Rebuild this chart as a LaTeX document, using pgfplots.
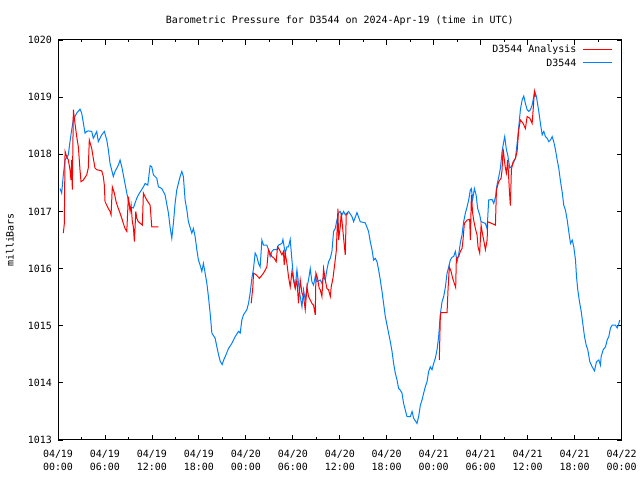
\documentclass[border=0pt]{standalone}
\usepackage{pgfplots}
\pgfplotsset{compat=1.18}
\usepackage{fontspec}
\setmainfont{DejaVu Sans Mono}
\definecolor{gpred}{RGB}{255,0,0}
\definecolor{gpblue}{RGB}{0,128,255}

\begin{document}
\begin{tikzpicture}[x=1bp,y=1bp]
\path[use as bounding box] (0,0) rectangle (640,480);
\begin{axis}[
  at={(58bp,40bp)}, anchor=south west,
  scale only axis, width=563.5bp, height=400bp,
  xmin=0, xmax=72, ymin=1013, ymax=1020,
  xtick={0,6,...,72},
  xticklabels={{04/19\\00:00},{04/19\\06:00},{04/19\\12:00},{04/19\\18:00},{04/20\\00:00},{04/20\\06:00},{04/20\\12:00},{04/20\\18:00},{04/21\\00:00},{04/21\\06:00},{04/21\\12:00},{04/21\\18:00},{04/22\\00:00}},
  minor x tick num=1,
  ytick={1013,1014,1015,1016,1017,1018,1019,1020},
  yticklabels={1013,1014,1015,1016,1017,1018,1019,1020},
  tick align=inside,
  major tick length=5bp, minor tick length=2.5bp,
  tick style={black, line width=0.8bp},
  axis line style={black, line width=1bp},
  xticklabel style={align=center, font=\fontsize{10}{13.5}\selectfont, yshift=-6.5bp},
  yticklabel style={font=\fontsize{10}{12}\selectfont, xshift=-2.5bp},
  title={Barometric Pressure for D3544 on 2024-Apr-19 (time in UTC)},
  title style={at={(axis description cs:0.5,1.0525)}, anchor=center, yshift=-8bp, font=\fontsize{10}{12}\selectfont},
  ylabel={milliBars},
  ylabel style={at={(axis description cs:-0.0852,0.5)}, anchor=center, font=\fontsize{10}{12}\selectfont},
  unbounded coords=jump,
  legend plot pos=right,
  legend cell align=right,
  legend style={at={(axis description cs:1,1)}, anchor=north east, xshift=-6bp, yshift=-1bp, fill=none, draw=none, font=\fontsize{10}{12}\selectfont, row sep=0.5bp, column sep=5bp},
]
\addplot[gpblue, line width=1bp, sharp plot, forget plot] coordinates {
(0.26,1017.40) (0.47,1017.32) (0.68,1017.64) (0.90,1017.90) (1.32,1017.99) (1.53,1018.22) (1.75,1018.43) (1.96,1018.60)
(2.39,1018.72) (2.81,1018.79) (3.03,1018.72) (3.24,1018.55) (3.45,1018.37) (3.67,1018.40) (3.87,1018.41) (4.31,1018.40)
(4.51,1018.28) (4.95,1018.40) (5.15,1018.22) (5.59,1018.34) (5.92,1018.40) (6.23,1018.25) (6.43,1018.08) (6.65,1017.84)
(7.07,1017.61) (7.29,1017.70) (7.71,1017.81) (7.93,1017.90) (8.15,1017.78) (8.35,1017.64) (8.79,1017.32) (9.21,1017.05)
(9.43,1017.07) (9.63,1017.06) (10.06,1017.23) (10.27,1017.29) (10.91,1017.43) (11.13,1017.49) (11.47,1017.46) (11.77,1017.80)
(11.98,1017.78) (12.19,1017.64) (12.62,1017.58) (12.83,1017.43) (13.26,1017.40) (13.68,1017.29) (14.11,1016.97) (14.32,1016.73)
(14.54,1016.53) (14.75,1016.80) (14.96,1017.14) (15.18,1017.38) (15.60,1017.61) (15.82,1017.70) (16.02,1017.61) (16.24,1017.20)
(16.46,1017.03) (16.66,1016.82) (17.10,1016.62) (17.30,1016.70) (17.52,1016.56) (17.74,1016.33) (17.94,1016.15) (18.16,1016.06)
(18.38,1015.95) (18.58,1016.09) (18.80,1015.92) (19.02,1015.74) (19.22,1015.51) (19.44,1015.22) (19.66,1014.87) (20.08,1014.78)
(20.30,1014.63) (20.50,1014.50) (20.72,1014.38) (20.97,1014.32) (21.23,1014.42) (21.49,1014.50) (21.78,1014.60) (22.21,1014.69)
(22.64,1014.81) (23.06,1014.90) (23.28,1014.87) (23.49,1015.10) (23.70,1015.19) (24.13,1015.28) (24.34,1015.39) (24.55,1015.57)
(24.77,1015.83) (24.98,1016.00) (25.19,1016.27) (25.41,1016.21) (25.62,1016.09) (25.83,1016.03) (26.05,1016.50) (26.26,1016.41)
(26.69,1016.41) (26.89,1016.33) (27.11,1016.21) (27.33,1016.30) (27.53,1016.33) (27.97,1016.33) (28.17,1016.41) (28.61,1016.44)
(28.74,1016.51) (29.03,1016.27) (29.25,1016.38) (29.45,1016.38) (29.67,1016.51) (29.89,1016.15) (30.09,1015.83) (30.31,1015.68)
(30.53,1015.98) (30.73,1015.74) (30.95,1015.51) (31.17,1015.33) (31.37,1015.63) (31.59,1015.45) (31.81,1015.68) (32.01,1015.80)
(32.23,1016.00) (32.44,1015.77) (32.65,1015.71) (32.87,1015.86) (33.08,1015.77) (33.51,1015.80) (33.72,1015.74) (33.93,1015.86)
(34.15,1015.80) (34.36,1015.98) (34.57,1016.12) (34.79,1016.18) (35.00,1016.30) (35.21,1016.65) (35.42,1016.70) (35.64,1016.85)
(35.85,1016.97) (36.06,1017.00) (36.28,1016.94) (36.49,1017.00) (36.70,1016.94) (37.13,1017.00) (37.56,1016.91) (37.77,1016.82)
(38.20,1016.98) (38.62,1016.82) (39.26,1016.80) (39.68,1016.65) (39.90,1016.47) (40.12,1016.33) (40.32,1016.15) (40.54,1016.18)
(40.76,1016.12) (40.96,1015.98) (41.18,1015.80) (41.40,1015.60) (41.60,1015.39) (41.82,1015.16) (42.04,1015.01) (42.24,1014.87)
(42.46,1014.72) (42.68,1014.55) (42.88,1014.34) (43.10,1014.17) (43.32,1014.05) (43.52,1013.90) (43.74,1013.87) (43.95,1013.82)
(44.16,1013.64) (44.38,1013.52) (44.59,1013.41) (45.02,1013.41) (45.24,1013.50) (45.44,1013.38) (45.87,1013.29) (46.08,1013.41)
(46.30,1013.61) (46.51,1013.70) (46.72,1013.82) (46.93,1013.93) (47.15,1014.02) (47.36,1014.20) (47.57,1014.28) (47.79,1014.23)
(48.00,1014.34) (48.21,1014.43) (48.43,1014.58) (48.63,1014.80) (48.85,1015.20) (49.07,1015.42) (49.28,1015.51) (49.49,1015.67)
(49.71,1015.92) (49.91,1016.02) (50.13,1016.15) (50.35,1016.20) (50.55,1016.21) (50.77,1016.30) (50.99,1016.12) (51.19,1016.24)
(51.41,1016.45) (51.62,1016.59) (51.83,1016.82) (52.05,1016.97) (52.27,1017.08) (52.47,1017.20) (52.69,1017.38) (52.82,1017.40)
(52.98,1017.20) (53.20,1017.40) (53.42,1017.29) (53.62,1017.05) (53.88,1016.94) (54.06,1016.82) (54.61,1016.79) (54.83,1016.70)
(55.03,1017.20) (55.46,1017.21) (55.67,1017.14) (55.89,1017.25) (56.10,1017.47) (56.31,1017.60) (56.53,1017.76) (56.74,1018.05)
(56.95,1018.22) (57.08,1018.31) (57.29,1018.08) (57.46,1017.99) (57.72,1017.76) (57.90,1017.78) (58.15,1017.84) (58.45,1017.93)
(58.66,1018.19) (58.87,1018.48) (59.08,1018.78) (59.30,1018.95) (59.51,1019.02) (59.72,1018.89) (59.94,1018.78) (60.14,1018.75)
(60.36,1018.78) (60.58,1018.86) (60.79,1019.01) (60.91,1019.10) (61.13,1019.01) (61.30,1018.86) (61.43,1018.75) (61.64,1018.54)
(61.86,1018.34) (62.07,1018.40) (62.28,1018.31) (62.50,1018.28) (62.71,1018.22) (62.92,1018.25) (63.14,1018.31) (63.34,1018.22)
(63.56,1018.08) (63.78,1017.90) (63.98,1017.76) (64.20,1017.53) (64.42,1017.34) (64.62,1017.11) (64.84,1017.02) (65.06,1016.85)
(65.26,1016.65) (65.48,1016.44) (65.70,1016.50) (65.90,1016.38) (66.12,1016.15) (66.25,1015.86) (66.41,1015.63) (66.63,1015.42)
(66.85,1015.25) (67.05,1015.04) (67.27,1014.81) (67.49,1014.66) (67.69,1014.58) (67.95,1014.37) (68.25,1014.28) (68.55,1014.21)
(68.80,1014.37) (69.10,1014.40) (69.31,1014.31) (69.40,1014.46) (69.66,1014.58) (69.95,1014.63) (70.17,1014.75) (70.38,1014.81)
(70.59,1014.96) (70.81,1015.01) (71.23,1015.01) (71.45,1014.96) (71.66,1015.04) (71.78,1015.10)
};
\addplot[gpred, line width=1bp, sharp plot, forget plot] coordinates {
(0.68,1016.62) (0.81,1016.79) (0.90,1018.05) (1.11,1017.96) (1.32,1017.90) (1.53,1017.73) (1.66,1017.55) (1.75,1017.90)
(1.83,1017.38) (1.96,1018.78) (2.17,1018.54) (2.39,1018.31) (2.60,1018.13) (2.81,1017.73) (2.94,1017.52) (3.24,1017.55)
(3.67,1017.64) (3.87,1017.76) (4.00,1018.25) (4.31,1018.10) (4.51,1017.93) (4.73,1017.76) (4.95,1017.73) (5.59,1017.71)
(5.79,1017.61) (5.92,1017.46) (6.01,1017.17) (6.23,1017.11) (6.43,1017.05) (6.65,1017.00) (6.78,1016.94) (6.94,1017.43)
(7.20,1017.32) (7.42,1017.17) (7.63,1017.08) (7.93,1016.97) (8.15,1016.88) (8.35,1016.79) (8.57,1016.70) (8.79,1016.65)
(8.99,1017.26) (9.21,1017.00) (9.34,1017.11) (9.50,1016.82) (9.63,1016.73) (9.76,1016.47) (9.94,1017.00) (10.06,1016.88)
(10.27,1016.82) (10.61,1016.78) (10.78,1016.76) (10.91,1017.32) (11.34,1017.20) (11.77,1017.11) (11.98,1016.73) (12.83,1016.73)
(13.00,nan)
(24.68,1015.39) (24.90,1015.68) (24.98,1015.92) (25.32,1015.89) (25.74,1015.83) (26.26,1015.92) (26.69,1016.03) (26.89,1016.33)
(27.11,1016.27) (27.33,1016.21) (27.62,1016.18) (27.88,1016.12) (28.05,1016.38) (28.30,1016.33) (28.61,1016.24) (28.81,1016.30)
(28.90,1016.06) (29.03,1016.27) (29.25,1016.09) (29.45,1015.86) (29.67,1015.68) (29.89,1015.95) (30.09,1015.80) (30.31,1015.65)
(30.53,1015.80) (30.73,1015.39) (30.95,1015.80) (31.17,1015.57) (31.37,1015.51) (31.59,1015.28) (31.81,1015.68) (32.01,1015.51)
(32.23,1015.45) (32.44,1015.39) (32.65,1015.36) (32.87,1015.19) (32.96,1015.92) (33.16,1015.83) (33.38,1015.65) (33.51,1015.63)
(33.72,1015.51) (33.93,1016.00) (34.15,1015.80) (34.36,1015.65) (34.57,1015.63) (34.79,1015.51) (34.91,1015.68) (35.13,1015.83)
(35.34,1016.06) (35.55,1016.30) (35.77,1017.05) (35.85,1016.50) (36.06,1016.73) (36.19,1016.97) (36.41,1016.65) (36.58,1016.41)
(36.70,1016.24) (36.83,1016.94) (37.05,1016.97)
(38.00,nan)
(48.72,1014.40) (48.85,1015.16) (48.94,1015.23) (49.71,1015.23) (49.84,1015.65) (50.00,1016.03) (50.22,1015.95) (50.43,1015.83)
(50.64,1015.74) (50.81,1015.67) (50.90,1016.18) (51.19,1016.21) (51.41,1016.30) (51.62,1016.35) (51.75,1016.50) (51.92,1016.79)
(52.27,1016.85) (52.60,1016.86) (52.69,1016.50) (52.82,1017.29) (52.98,1016.97) (53.11,1016.85) (53.33,1016.70) (53.54,1016.59)
(53.67,1016.38) (53.88,1016.27) (54.06,1016.76) (54.22,1016.62) (54.39,1016.50) (54.61,1016.33) (54.83,1016.50) (54.90,1016.82)
(55.25,1016.80) (55.89,1016.76) (56.02,1017.38) (56.31,1017.52) (56.61,1017.58) (56.74,1017.73) (56.87,1018.10) (57.03,1017.90)
(57.16,1017.76) (57.29,1017.67) (57.46,1017.90) (57.68,1017.35) (57.80,1017.10) (57.93,1017.73) (58.15,1017.87) (58.45,1017.93)
(58.66,1018.05) (58.87,1018.43) (59.08,1018.60) (59.43,1018.54) (59.72,1018.45) (59.94,1018.66) (60.29,1018.63) (60.58,1018.54)
(60.71,1018.78) (60.87,1019.10) (61.00,1019.01)
};
\addlegendimage{legend image code/.code={\node[inner sep=0pt, outer sep=0pt, anchor=west] at (0bp,0bp) {\textcolor{gpred}{\rule[-0.5bp]{29bp}{1.1bp}}};}}
\addlegendentry{D3544 Analysis}
\addlegendimage{legend image code/.code={\node[inner sep=0pt, outer sep=0pt, anchor=west] at (0bp,0bp) {\textcolor{gpblue}{\rule[-0.5bp]{29bp}{1.1bp}}};}}
\addlegendentry{D3544}
\end{axis}
\end{tikzpicture}
\end{document}
